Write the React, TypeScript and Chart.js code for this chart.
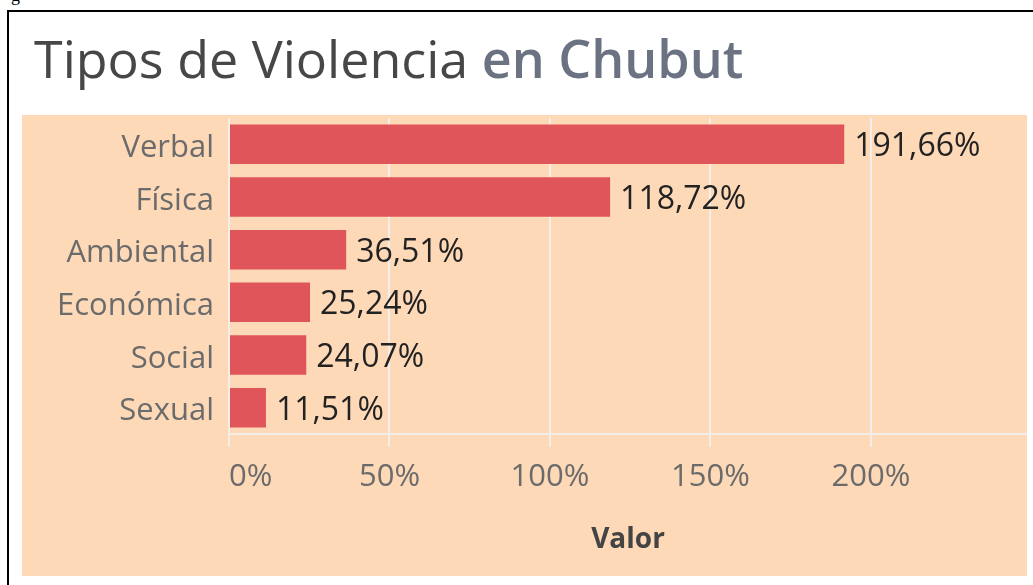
import React, { useEffect, useRef } from "react";
import { Chart, registerables } from "chart.js";

Chart.register(...registerables);

const categories = ["Verbal", "Física", "Ambiental", "Económica", "Social", "Sexual"];
const values = [191.66, 118.72, 36.51, 25.24, 24.07, 11.51];
const tickValues = [0, 50, 100, 150, 200];
const axisMax = 248.6;
const axisTitle = "Valor";
const titleMain = "Tipos de Violencia";
const titleSub = "en Chubut";

const FONT = "'Open Sans', sans-serif";
const PEACH = "#FED9B8";
const BAR = "#E05559";
const GRID = "#F3EEEA";

const fmt = (v: number) => v.toFixed(2).replace(".", ",") + "%";

const valueLabels = {
  id: "valueLabels",
  afterDatasetsDraw(chart: any) {
    const ctx = chart.ctx;
    const meta = chart.getDatasetMeta(0);
    ctx.save();
    ctx.font = `32px ${FONT}`;
    ctx.fillStyle = "#222222";
    ctx.textAlign = "left";
    ctx.textBaseline = "middle";
    meta.data.forEach((bar: any, i: number) => {
      ctx.fillText(fmt(values[i]), bar.x + 10, bar.y + 3);
    });
    ctx.restore();
  },
};

const zeroPadding = (scale: any) => {
  scale.paddingTop = 0;
  scale.paddingBottom = 0;
  scale.paddingLeft = 0;
  scale.paddingRight = 0;
};

export default function App() {
  const ref = useRef<HTMLCanvasElement | null>(null);

  useEffect(() => {
    if (!ref.current) return;
    const chart = new Chart(ref.current, {
      type: "bar",
      data: {
        labels: categories,
        datasets: [
          {
            data: values,
            backgroundColor: BAR,
            borderWidth: 0,
            barPercentage: 0.75,
            categoryPercentage: 1,
          },
        ],
      },
      options: {
        indexAxis: "y",
        responsive: false,
        animation: false,
        devicePixelRatio: 1,
        layout: { padding: { top: 3, left: 0, right: 0, bottom: 0 } },
        plugins: { legend: { display: false }, tooltip: { enabled: false } },
        scales: {
          x: {
            type: "linear",
            min: 0,
            max: axisMax,
            afterBuildTicks: (scale: any) => {
              scale.ticks = [...tickValues, axisMax].map((v) => ({ value: v }));
            },
            afterFit: (scale: any) => {
              scale.height = 142;
              zeroPadding(scale);
            },
            ticks: {
              align: "inner",
              font: { family: FONT, size: 31 },
              color: "#6b6b6b",
              padding: 12,
              maxRotation: 0,
              autoSkip: false,
              callback: (v: any) => (tickValues.includes(Number(v)) ? `${v}%` : ""),
            },
            grid: {
              color: (c: any) => (c.tick && c.tick.value > 240 ? "rgba(0,0,0,0)" : GRID),
              lineWidth: 2,
              tickLength: 13,
              drawTicks: true,
            },
            border: { display: true, color: GRID, width: 2 },
            title: {
              display: true,
              text: axisTitle,
              font: { family: FONT, size: 28, weight: "bold" },
              color: "#444444",
              padding: { top: 0, bottom: 19 },
            },
          },
          y: {
            type: "category",
            afterFit: (scale: any) => {
              scale.width = 207;
              zeroPadding(scale);
            },
            ticks: {
              font: { family: FONT, size: 31 },
              color: "#6b6b6b",
              padding: 15,
              labelOffset: 4,
            },
            grid: { display: false, drawTicks: false },
            border: { display: false },
          },
        },
      },
      plugins: [valueLabels],
    } as any);
    return () => chart.destroy();
  }, []);

  return (
    <div
      style={{
        position: "absolute",
        left: 0,
        top: 0,
        width: 1033,
        height: 585,
        background: "#ffffff",
        overflow: "hidden",
      }}
    >
      <div
        style={{
          position: "absolute",
          left: 11,
          top: -14,
          fontFamily: "'Liberation Serif', serif",
          fontSize: 18,
          lineHeight: 1,
          color: "#000",
        }}
      >
        g
      </div>
      <div
        style={{
          position: "absolute",
          left: 7,
          top: 10,
          width: 1100,
          height: 700,
          borderTop: "2px solid #000",
          borderLeft: "2px solid #000",
        }}
      />
      <div
        style={{
          position: "absolute",
          left: 34,
          top: 32,
          fontFamily: FONT,
          fontSize: 52,
          lineHeight: 1,
          whiteSpace: "nowrap",
        }}
      >
        <span style={{ color: "#474747" }}>{titleMain}</span>{" "}
        <span style={{ color: "#6b7383", fontWeight: 600 }}>{titleSub}</span>
      </div>
      <div
        style={{
          position: "absolute",
          left: 22,
          top: 115,
          width: 1005,
          height: 461,
          background: PEACH,
        }}
      >
        <canvas ref={ref} width={1005} height={461} style={{ display: "block" }} />
      </div>
    </div>
  );
}
